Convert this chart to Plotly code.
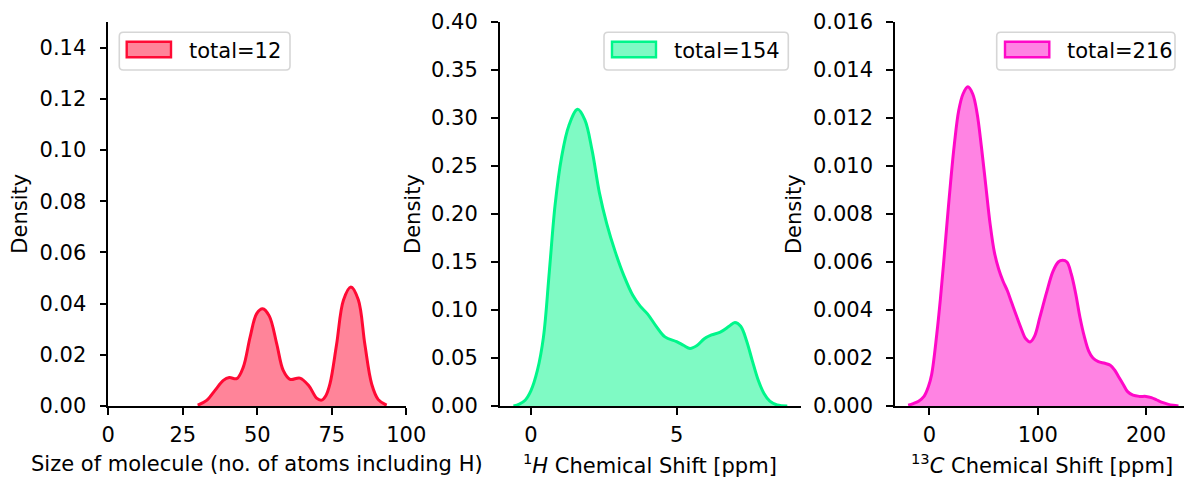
import plotly.graph_objects as go

# ---------------- data ----------------
size_x = [30.0, 33.0, 35.8, 38.6, 40.6, 43.1, 45.3, 47.6, 49.8, 51.8, 54.0, 56.5, 58.7, 61.0,
          64.3, 67.3, 69.9, 71.6, 73.0, 74.4, 76.6, 78.9, 81.4, 83.9, 86.1, 88.4, 90.6, 93.4]
size_density = [0.0003, 0.0022, 0.0061, 0.0100, 0.0111, 0.0107, 0.0152, 0.0270, 0.0361, 0.0380,
                0.0352, 0.0244, 0.0139, 0.0104, 0.0109, 0.0079, 0.0031, 0.0023, 0.0040, 0.0087,
                0.0240, 0.0413, 0.0465, 0.0415, 0.0240, 0.0085, 0.0025, 0.0003]

h_shift = [-0.6, -0.4, -0.2, 0.0, 0.22, 0.43, 0.63, 0.83, 1.05, 1.3, 1.6, 1.85, 2.1, 2.35,
           2.6, 2.9, 3.2, 3.5, 3.75, 4.0, 4.3, 4.6, 5.0, 5.25, 5.46, 5.7, 5.95, 6.2, 6.5, 6.8,
           7.0, 7.2, 7.4, 7.6, 7.8, 8.0, 8.2, 8.45, 8.8]
h_density = [0.0, 0.002, 0.006, 0.016, 0.037, 0.072, 0.140, 0.210, 0.259, 0.292, 0.309, 0.298,
             0.266, 0.222, 0.190, 0.160, 0.135, 0.115, 0.104, 0.096, 0.083, 0.072, 0.067, 0.063,
             0.060, 0.063, 0.070, 0.074, 0.077, 0.083, 0.087, 0.083, 0.068, 0.047, 0.027, 0.013,
             0.005, 0.001, 0.0]

c_shift = [-19.6, -15, -10, -5, -1, 2, 6.8, 10, 13, 16, 19.5, 23, 27, 31, 35.5, 40, 44, 48, 52,
           56, 60, 64, 68, 72, 76, 80, 85, 89, 93, 97, 102, 108, 114, 119, 123, 127, 131, 135,
           139, 143, 147, 151, 156, 162, 167, 171, 175, 179, 183, 188, 194, 200, 205, 210, 215,
           220, 225, 230]
c_density = [0.00003, 0.0001, 0.0002, 0.0004, 0.0008, 0.0013, 0.0030, 0.0044, 0.0059, 0.0075,
             0.0093, 0.0109, 0.0123, 0.0130, 0.0133, 0.0130, 0.0122, 0.0108, 0.0092, 0.0076,
             0.0064, 0.0057, 0.0052, 0.0048, 0.0043, 0.0038, 0.0032, 0.0028, 0.00267, 0.0029,
             0.0037, 0.0047, 0.0056, 0.0060, 0.00607, 0.0060, 0.0055, 0.0047, 0.0037, 0.0029,
             0.0023, 0.0020, 0.00185, 0.00178, 0.0017, 0.0015, 0.0012, 0.0009, 0.0006, 0.00045,
             0.0004, 0.0004, 0.00035, 0.00025, 0.00015, 0.00008, 0.00003, 0.0]

legend_labels = ["total=12", "total=154", "total=216"]
x_titles = ["Size of molecule (no. of atoms including H)",
            "<sup>1</sup><i>H</i> Chemical Shift [ppm]",
            "<sup>13</sup><i>C</i> Chemical Shift [ppm]"]

x_ticks = [[0, 25, 50, 75, 100], [0, 5], [0, 100, 200]]
y_ticks = [[0.00, 0.02, 0.04, 0.06, 0.08, 0.10, 0.12, 0.14],
           [0.00, 0.05, 0.10, 0.15, 0.20, 0.25, 0.30, 0.35, 0.40],
           [0.000, 0.002, 0.004, 0.006, 0.008, 0.010, 0.012, 0.014, 0.016]]
y_formats = [".2f", ".2f", ".3f"]

colors = [(255, 10, 52), (0, 246, 138), (255, 8, 200)]

# ---------------- layout helpers (pixel geometry) ----------------
W, H = 1184, 478
ML, MR, MT, MB = 108, 0, 22, 72
PW, PH = W - ML - MR, H - MT - MB
FONT = "DejaVu Sans"
FS = 21


def px(x):
    return (x - ML) / PW


def py(y):
    return (H - MB - y) / PH


domains_px = [(108.3, 406.3), (499.8, 801.0), (895.0, 1184.0)]
x_ranges = [[0, 100], [-1.07, 9.27], [-31.8, 235.1]]
y_ranges = [[0, 0.15], [0, 0.40], [0, 0.016]]

series = [(size_x, size_density), (h_shift, h_density), (c_shift, c_density)]

fig = go.Figure()
for i, (xs, ys) in enumerate(series):
    r, g, b = colors[i]
    sfx = "" if i == 0 else str(i + 1)
    fig.add_trace(go.Scatter(
        x=xs, y=ys, mode="lines", fill="tozeroy",
        line=dict(color=f"rgb({r},{g},{b})", width=3, shape="spline", smoothing=1.0),
        fillcolor=f"rgba({r},{g},{b},0.5)",
        xaxis="x" + sfx, yaxis="y" + sfx, showlegend=False, hoverinfo="skip"))

axis_common = dict(showline=True, linecolor="black", linewidth=1.6, ticks="outside",
                   ticklen=7, tickwidth=1.6, tickcolor="black", showgrid=False,
                   zeroline=False, automargin=False,
                   tickfont=dict(family=FONT, size=FS, color="black"))

layout = dict(width=W, height=H, margin=dict(l=ML, r=MR, t=MT, b=MB, autoexpand=False),
              paper_bgcolor="white", plot_bgcolor="white", showlegend=False,
              font=dict(family=FONT, size=FS, color="black"))
for i in range(3):
    sfx = "" if i == 0 else str(i + 1)
    d0, d1 = domains_px[i]
    layout["xaxis" + sfx] = dict(axis_common, domain=[px(d0), min(px(d1), 1.0)],
                                 range=x_ranges[i], tickvals=x_ticks[i],
                                 ticktext=[str(t) for t in x_ticks[i]],
                                 anchor="y" + sfx, ticklabelstandoff=2)
    layout["yaxis" + sfx] = dict(axis_common, domain=[0, 1], range=y_ranges[i],
                                 tickvals=y_ticks[i],
                                 ticktext=[format(t, y_formats[i]) for t in y_ticks[i]],
                                 anchor="x" + sfx, ticklabelstandoff=9)
fig.update_layout(**layout)

# ---------------- axis titles ----------------
ylab_x = [20.0, 412.3, 793.4]
xlab_x = [257.3, 650.4, 1042.0]
for i in range(3):
    fig.add_annotation(text="Density", x=px(ylab_x[i]), y=py(213.7), xref="paper", yref="paper",
                       textangle=-90, showarrow=False, xanchor="center", yanchor="middle",
                       font=dict(family=FONT, size=FS, color="black"))
    fig.add_annotation(text=x_titles[i], x=px(xlab_x[i]), y=py(464), xref="paper", yref="paper",
                       showarrow=False, xanchor="center", yanchor="middle",
                       font=dict(family=FONT, size=FS, color="black"))

# ---------------- legends (matplotlib style) ----------------
frames = [(119.3, 32.3, 290.0, 70.0), (604.0, 32.3, 788.3, 70.0), (996.7, 32.3, 1175.0, 70.0)]
patches = [(126.7, 41.7, 171.0, 57.3), (612.0, 41.7, 656.0, 57.3), (1005.0, 41.7, 1049.3, 57.3)]
text_left = [187.0, 672.0, 1064.5]


def rounded_path(x0, y0, x1, y1, rad):
    pts = [f"M {px(x0 + rad)},{py(y0)}",
           f"L {px(x1 - rad)},{py(y0)}",
           f"Q {px(x1)},{py(y0)} {px(x1)},{py(y0 + rad)}",
           f"L {px(x1)},{py(y1 - rad)}",
           f"Q {px(x1)},{py(y1)} {px(x1 - rad)},{py(y1)}",
           f"L {px(x0 + rad)},{py(y1)}",
           f"Q {px(x0)},{py(y1)} {px(x0)},{py(y1 - rad)}",
           f"L {px(x0)},{py(y0 + rad)}",
           f"Q {px(x0)},{py(y0)} {px(x0 + rad)},{py(y0)}",
           "Z"]
    return " ".join(pts)


for i in range(3):
    r, g, b = colors[i]
    fx0, fy0, fx1, fy1 = frames[i]
    fig.add_shape(type="path", path=rounded_path(fx0, fy0, fx1, fy1, 4), xref="paper",
                  yref="paper", line=dict(color="rgb(214,214,214)", width=1.6),
                  fillcolor="rgba(255,255,255,0.8)", layer="above")
    qx0, qy0, qx1, qy1 = patches[i]
    fig.add_shape(type="rect", x0=px(qx0), x1=px(qx1), y0=py(qy1), y1=py(qy0), xref="paper",
                  yref="paper", line=dict(color=f"rgb({r},{g},{b})", width=2.4),
                  fillcolor=f"rgba({r},{g},{b},0.5)", layer="above")
    fig.add_annotation(text=legend_labels[i], x=px(text_left[i]), y=py(50.5), xref="paper",
                       yref="paper", showarrow=False, xanchor="left", yanchor="middle",
                       font=dict(family=FONT, size=FS, color="black"))

fig.write_html("out.html")
